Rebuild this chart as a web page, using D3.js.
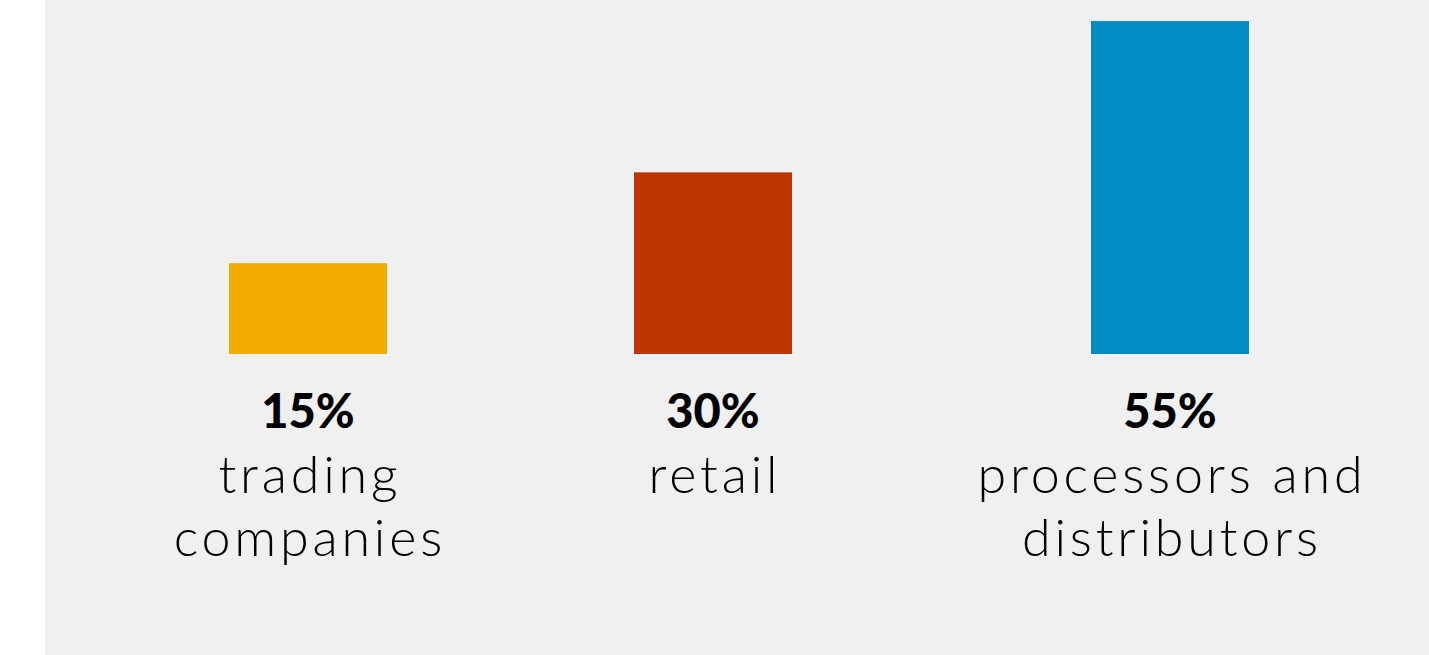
<!DOCTYPE html>
<html><head><meta charset="utf-8">
<script src="https://cdn.jsdelivr.net/npm/d3@7"></script>
<style>
html,body{margin:0;padding:0;background:#fff;}
svg{display:block;}
</style></head>
<body>
<svg id="chart" width="1429" height="655"></svg>
<script>
// Data
const categories = ["trading companies", "retail", "processors and distributors"];
const labelLines = [["trading", "companies"], ["retail"], ["processors and", "distributors"]];
const values = [15, 30, 55];
const valueLabels = ["15%", "30%", "55%"];
const colors = ["#F2AB00", "#BD3500", "#028AC3"];

// Layout
const W = 1429, H = 655;
const bgLeft = 45;
const baseline = 354;
const barW = 158;
const centers = [308, 713, 1170];
const fontFamily = "Lato, 'Open Sans', sans-serif";
const spacing = 3.8;

const svg = d3.select("#chart");
svg.append("rect").attr("x", bgLeft).attr("y", 0).attr("width", W - bgLeft).attr("height", H).attr("fill", "#f0f0f0");

const x = d3.scaleOrdinal().domain(categories).range(centers);
const y = d3.scaleLinear().domain([0, 55]).range([baseline, 21]);

const g = svg.append("g");
g.selectAll("rect.bar").data(categories).join("rect")
  .attr("class", "bar")
  .attr("x", d => x(d) - barW / 2)
  .attr("width", barW)
  .attr("y", (d, i) => y(values[i]))
  .attr("height", (d, i) => y(0) - y(values[i]))
  .attr("fill", (d, i) => colors[i]);

g.selectAll("text.val").data(categories).join("text")
  .attr("class", "val")
  .attr("x", d => x(d))
  .attr("y", 428)
  .attr("text-anchor", "middle")
  .attr("font-family", fontFamily)
  .attr("font-weight", 900)
  .attr("font-size", 47)
  .attr("fill", "#000")
  .text((d, i) => valueLabels[i]);

categories.forEach((c, i) => {
  labelLines[i].forEach((line, j) => {
    g.append("text")
      .attr("x", x(c) + spacing / 2)
      .attr("y", 493 + j * 63)
      .attr("text-anchor", "middle")
      .attr("font-family", fontFamily)
      .attr("font-weight", 300)
      .attr("font-size", 52)
      .attr("letter-spacing", spacing)
      .attr("fill", "#000")
      .text(line);
  });
});
</script>
</body></html>
